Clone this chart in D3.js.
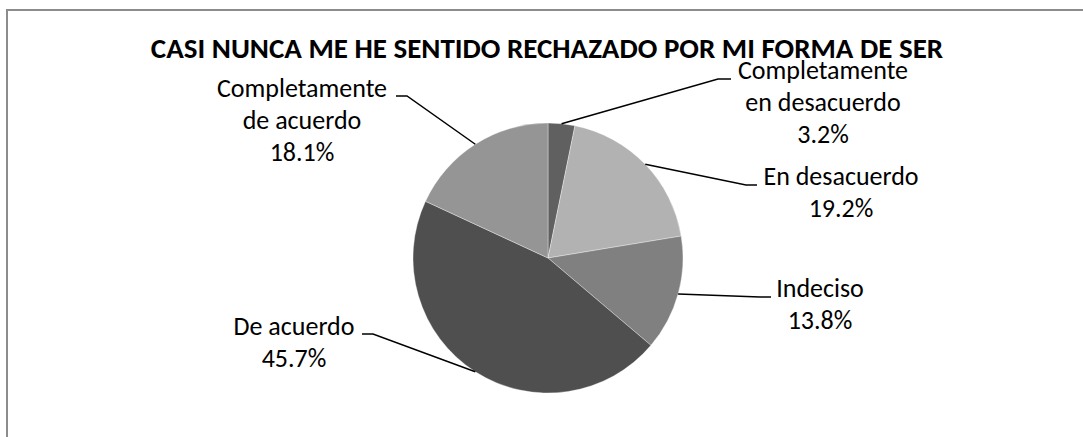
<!DOCTYPE html>
<html>
<head>
<meta charset="utf-8">
<script src="https://cdn.jsdelivr.net/npm/d3@7"></script>
<style>
  body { margin: 0; background: #fff; }
  text { font-family: Calibri, Carlito, Lato, sans-serif; fill: #000; }
</style>
</head>
<body>
<div id="chart"></div>
<script>
const width = 1083;
const height = 437;

// Data
const categories = [
  "Completamente en desacuerdo",
  "En desacuerdo",
  "Indeciso",
  "De acuerdo",
  "Completamente de acuerdo",
];
const values = [3.2, 19.2, 13.8, 45.7, 18.1];
const labelLines = [
  ["Completamente", "en desacuerdo"],
  ["En desacuerdo"],
  ["Indeciso"],
  ["De acuerdo"],
  ["Completamente", "de acuerdo"],
];
const title = "CASI NUNCA ME HE SENTIDO RECHAZADO POR MI FORMA DE SER";

// Styling / layout
const colors = ["#606060", "#b2b2b2", "#808080", "#4f4f4f", "#959595"];
const cx = 548;
const cy = 258;
const radius = 135;
const lineHeight = 32;
// label block: center x, first baseline y, elbow of the leader line, side of the label
const labelLayout = [
  { x: 823, y: 79, elbow: [718, 79], end: [731, 79] },
  { x: 841, y: 185, elbow: [746, 185], end: [757, 185] },
  { x: 820, y: 297, elbow: [760, 297], end: [771, 297] },
  { x: 294, y: 335, elbow: [373, 334], end: [362, 334] },
  { x: 302, y: 97, elbow: [407, 96], end: [396, 96] },
];

const svg = d3
  .select("#chart")
  .append("svg")
  .attr("width", width)
  .attr("height", height);

// chart area border (only top and left edges fall inside the picture)
svg
  .append("rect")
  .attr("x", 7)
  .attr("y", 10)
  .attr("width", 1200)
  .attr("height", 600)
  .attr("fill", "none")
  .attr("stroke", "#8c8c8c")
  .attr("stroke-width", 2);

svg
  .append("text")
  .attr("x", 547)
  .attr("y", 58)
  .attr("text-anchor", "middle")
  .style("font-size", "29px")
  .style("font-weight", "bold")
  .text(title);

const data = categories.map((c, i) => ({ category: c, value: values[i], idx: i }));

const pie = d3.pie().sort(null).value((d) => d.value);
const arc = d3.arc().innerRadius(0).outerRadius(radius);
const edge = d3.arc().innerRadius(radius).outerRadius(radius);

const g = svg.append("g").attr("transform", `translate(${cx}, ${cy})`);

const arcs = pie(data);

g.selectAll(".slice")
  .data(arcs)
  .enter()
  .append("path")
  .attr("class", "slice")
  .attr("d", arc)
  .attr("fill", (d) => colors[d.data.idx])
  .attr("stroke", "#ffffff")
  .attr("stroke-width", 0.6)
  .attr("stroke-opacity", 0.6);

// leader lines: from slice edge to elbow, then a short horizontal stub
svg
  .selectAll(".leader")
  .data(arcs)
  .enter()
  .append("polyline")
  .attr("class", "leader")
  .attr("fill", "none")
  .attr("stroke", "#000")
  .attr("stroke-width", 1.5)
  .attr("points", (d) => {
    const [px, py] = edge.centroid(d);
    const L = labelLayout[d.data.idx];
    return [[cx + px, cy + py], L.elbow, L.end].map((p) => p.join(",")).join(" ");
  });

// labels
arcs.forEach((d) => {
  const i = d.data.idx;
  const L = labelLayout[i];
  const lines = labelLines[i].concat([d.data.value.toFixed(1) + "%"]);
  const t = svg
    .append("text")
    .attr("class", "label")
    .attr("text-anchor", "middle")
    .style("font-size", "26px");
  lines.forEach((ln, k) => {
    t.append("tspan")
      .attr("x", L.x)
      .attr("y", L.y + k * lineHeight)
      .text(ln);
  });
});
</script>
</body>
</html>
